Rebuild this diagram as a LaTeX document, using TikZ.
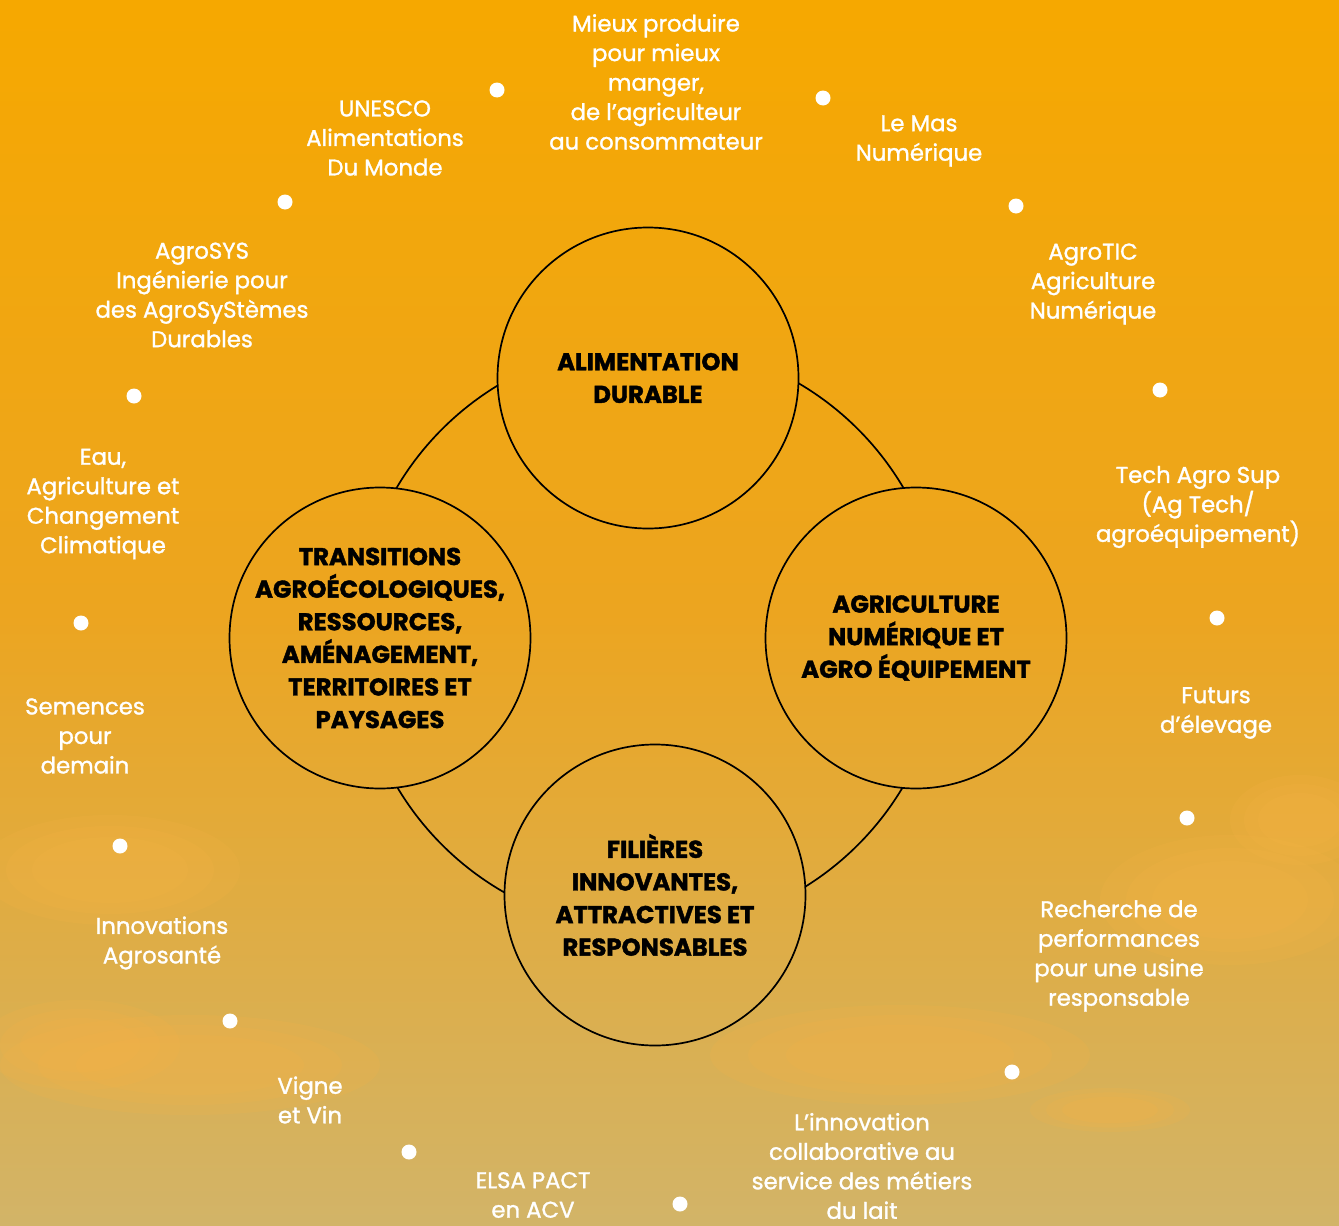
\documentclass[tikz,border=0pt]{standalone}
\usepackage{fontspec}
\setmainfont{Poppins}[BoldFeatures={FakeBold=1.6}]
\newfontfamily\labfont{Poppins}[FakeBold=1.3]
\usetikzlibrary{shapes.geometric}
\definecolor{bgtop}{HTML}{F6A800}
\definecolor{bgmid}{HTML}{ECA520}
\definecolor{bgbot}{HTML}{D2B468}
\definecolor{cloud}{HTML}{F7B446}
\tikzset{
  hub/.style={circle, draw=black, line width=1.7pt, minimum size=301pt, inner sep=0pt},
  hubtext/.style={align=center, inner sep=0pt, text=black,
    font=\fontsize{24.3}{32.6}\selectfont\bfseries},
  lab/.style={align=center, text=white, inner sep=0pt, font=\labfont\fontsize{22.8}{29.5}\selectfont},
  dot/.style={circle, fill=white, minimum size=15pt, inner sep=0pt},
  ringline/.style={draw=black, line width=1.7pt},
  puff/.style={fill=cloud, opacity=0.18}
}
\begin{document}
\begin{tikzpicture}[x=1pt,y=-1pt]
\useasboundingbox (0,0) rectangle (1339,1226);
\shade[top color=bgtop, bottom color=bgbot, middle color=bgmid] (0,0) rectangle (1339,1226);
% soft clouds
\foreach \s in {1,0.8,0.6}{
  \fill[puff] (190,1065) ellipse ({190*\s} and {50*\s});
  \fill[puff] (80,1045) ellipse ({100*\s} and {45*\s});
  \fill[puff] (900,1055) ellipse ({190*\s} and {50*\s});
  \fill[puff] (1110,1110) ellipse ({80*\s} and {22*\s});
  \fill[puff] (1230,900) ellipse ({130*\s} and {65*\s});
  \fill[puff] (1300,820) ellipse ({70*\s} and {45*\s});
  \fill[puff] (110,870) ellipse ({130*\s} and {55*\s});
}

% hubs
\node[hub, label={[hubtext]center:ALIMENTATION\\DURABLE}] (top) at (648,378) {};
\node[hub, label={[hubtext]center:TRANSITIONS\\AGROÉCOLOGIQUES,\\RESSOURCES,\\AMÉNAGEMENT,\\TERRITOIRES ET\\PAYSAGES}] (left) at (380,638) {};
\node[hub, label={[hubtext]center:AGRICULTURE\\NUMÉRIQUE ET\\AGRO ÉQUIPEMENT}] (right) at (916,638) {};
\node[hub, label={[hubtext]center:FILIÈRES\\INNOVANTES,\\ATTRACTIVES ET\\RESPONSABLES}] (bottom) at (655,895) {};

% connecting ring, hidden inside the hubs
\coordinate (ringc) at (650,637);
\begin{scope}[even odd rule]
\clip (0,0) rectangle (1339,1226)
  (top.center) circle (150.5) (left.center) circle (150.5)
  (right.center) circle (150.5) (bottom.center) circle (150.5);
\draw[ringline] (ringc) circle (294);
\end{scope}

% labels
\node[lab] (l1) at (656,82) {Mieux produire\\pour mieux\\manger,\\de l’agriculteur\\au consommateur};
\node[lab] (l2) at (385,138) {UNESCO\\Alimentations\\Du Monde};
\node[lab] (l3) at (919,141) {Le Mas\\Numérique};
\node[lab] (l4) at (202,295) {AgroSYS\\Ingénierie pour\\des AgroSyStèmes\\Durables};
\node[lab] (l5) at (1093,284) {AgroTIC\\Agriculture\\Numérique};
\node[lab] (l6) at (103,504) {Eau,\\Agriculture et\\Changement\\Climatique};
\node[lab] (l7) at (1198,507) {Tech Agro Sup\\(Ag Tech/\\agroéquipement)};
\node[lab] (l8) at (85,736) {Semences\\pour\\demain};
\node[lab] (l9) at (1216,713) {Futurs\\d’élevage};
\node[lab] (l10) at (162,943) {Innovations\\Agrosanté};
\node[lab] (l11) at (1119,956) {Recherche de\\performances\\pour une usine\\responsable};
\node[lab] (l12) at (310,1100) {Vigne\\et Vin};
\node[lab] (l13) at (533,1195) {ELSA PACT\\en ACV};
\node[lab] (l14) at (862,1166) {L’innovation\\collaborative au\\service des métiers\\du lait};

% dots
\node[dot] (d1) at (497,90) {};
\node[dot] (d2) at (823,98) {};
\node[dot] (d3) at (285,202) {};
\node[dot] (d4) at (1016,206) {};
\node[dot] (d5) at (134,396) {};
\node[dot] (d6) at (1160,390) {};
\node[dot] (d7) at (81,623) {};
\node[dot] (d8) at (1217,618) {};
\node[dot] (d9) at (120,846) {};
\node[dot] (d10) at (1187,818) {};
\node[dot] (d11) at (230,1021) {};
\node[dot] (d12) at (1012,1072) {};
\node[dot] (d13) at (409,1152) {};
\node[dot] (d14) at (680,1204) {};
\end{tikzpicture}
\end{document}
